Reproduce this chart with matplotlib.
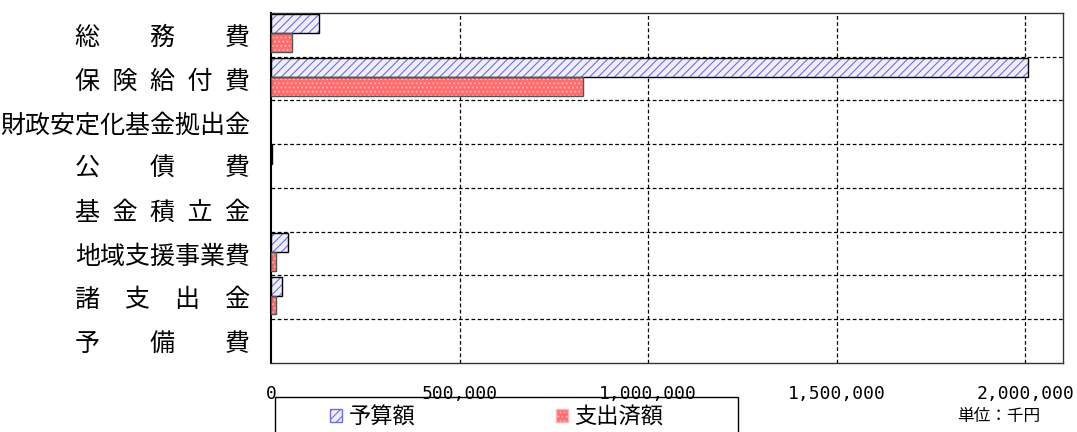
import numpy as np
import matplotlib
matplotlib.use('Agg')
import matplotlib.pyplot as plt
from matplotlib.patches import Patch, Rectangle

plt.rcParams['font.family'] = ['Noto Sans CJK JP', 'DejaVu Sans']
plt.rcParams['hatch.linewidth'] = 0.8

# data (千円)
categories = ['総\u3000\u3000務\u3000\u3000費', '保\u2002険\u2002給\u2002付\u2002費', '財政安定化基金拠出金',
              '公\u3000\u3000債\u3000\u3000費', '基\u2002金\u2002積\u2002立\u2002金', '地域支援事業費',
              '諸\u3000支\u3000出\u3000金', '予\u3000\u3000備\u3000\u3000費']
budget = [128000, 2006000, 0, 3000, 0, 44000, 29000, 0]
spent = [55000, 826000, 0, 0, 0, 13000, 13000, 0]
xticks = [0, 500000, 1000000, 1500000, 2000000]

fig = plt.figure(figsize=(10.77, 4.32), dpi=100)
ax = fig.add_axes([0.2516, 0.160, 0.7354, 0.810])

y = np.arange(len(categories))
h = 0.43
yb = y - h/2 - 0.04
ys = y + h/2 - 0.04
b = np.array(budget)
s = np.array(spent)

# budget bars: hatch layer then outline (skip empty ones)
ax.barh(yb, b, height=h, color='#EEEEFF', edgecolor='#7070D8',
        hatch='////', linewidth=0, zorder=3)
ax.barh(yb[b > 0], b[b > 0], height=h, fill=False, edgecolor='black', linewidth=1, zorder=4)
# spent bars
ax.barh(ys, s, height=h, color='#FF6E6E', edgecolor='#FFB4B4',
        hatch='....', linewidth=0, zorder=3)
ax.barh(ys[s > 0], s[s > 0], height=h, fill=False, edgecolor='#555555', linewidth=1, zorder=4)

ax.set_ylim(len(categories) - 0.5, -0.5)
ax.set_xlim(0, 2100000)
ax.set_yticks(y)
ax.set_yticklabels(categories, fontsize=18)
ax.set_xticks(xticks)
ax.set_xticklabels([f'{v:,}' for v in xticks], family='DejaVu Sans Mono', fontsize=13)
ax.tick_params(axis='y', length=0, pad=15)
ax.tick_params(axis='x', length=0, pad=16)

# grid
for bd in np.arange(0.5, len(categories) - 0.5, 1):
    ax.axhline(bd, color='black', linestyle=(0, (3, 2)), linewidth=0.9, zorder=1)
for t in xticks[1:]:
    ax.axvline(t, color='black', linestyle=(0, (3, 2)), linewidth=0.9, zorder=1)

for sp in ['top', 'right', 'bottom']:
    ax.spines[sp].set_linewidth(1)
    ax.spines[sp].set_color('#333333')
ax.spines['left'].set_linewidth(1.5)

# legend box (bottom runs off the figure)
W, H = 1077, 432
fig.patches.append(Rectangle((275 / W, 1 - 440 / H), (738 - 275) / W, 43 / H,
                             transform=fig.transFigure, fill=False, edgecolor='black',
                             linewidth=1, zorder=5))
handles = [Patch(facecolor='#EEEEFF', edgecolor='#7070D8', hatch='////', label='予算額'),
           Patch(facecolor='#FF6E6E', edgecolor='#FFB4B4', hatch='....', label='支出済額')]
leg = fig.legend(handles=handles, loc='center left', bbox_to_anchor=(330 / W, 1 - 417 / H),
                 ncol=2, fontsize=16, frameon=False,
                 handlelength=0.55, handleheight=0.55, handletextpad=0.3,
                 columnspacing=6.3, borderpad=0, borderaxespad=0)

fig.text(0.966, 1 - 416 / H, '単位：千円', fontsize=12, ha='right', va='center')

fig.savefig('out.png', dpi=100)
